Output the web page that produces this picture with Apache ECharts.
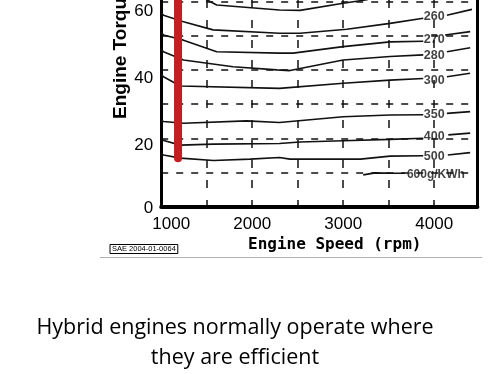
<!DOCTYPE html>
<html><head><meta charset="utf-8">
<script src="https://cdn.jsdelivr.net/npm/echarts@6/dist/echarts.min.js"></script>
<style>html,body{margin:0;padding:0;background:#fff}#c{width:500px;height:374px}</style>
</head><body><div id="c"></div>
<script>
// ---- data (engine speed rpm, torque) ----
const xTickLabels = [1000, 2000, 3000, 4000];
const yTickLabels = [0, 20, 40, 60];
const contour250 = [[1400,63],[1500,60.5],[1610,59.0],[2300,57.5],[2525,57.4],[3000,59.5],[3260,60.5],[3450,63]];
const contour260 = [[1000,56.6],[1025,56.0],[1245,54.1],[1570,51.7],[2300,50.7],[2525,50.7],[3040,51.9],[3515,53.6],[3880,55.1],null,[4140,56.0],[4415,57.7]];
const contour270 = [[1000,51.0],[1025,50.2],[1245,48.7],[1610,45.3],[2300,44.9],[2450,44.9],[3000,46.8],[3515,48.2],[3880,48.4],null,[4120,50.2],[4395,51.2]];
const contour280 = [[1000,46.0],[1025,45.3],[1245,42.9],[1790,40.9],[2270,40.0],[2415,39.8],[3000,42.9],[3515,43.9],[3880,44.4],null,[4140,45.3],[4395,46.5]];
const contour300 = [[1000,38.7],[1025,38.0],[1210,35.3],[2300,34.6],[3000,36.1],[3515,37.0],[3880,37.5],null,[4140,38.0],[4395,39.0]];
const contour350 = [[1000,25.3],[1025,24.9],[1245,24.4],[1940,25.1],[2300,24.6],[3000,26.3],[3515,26.8],[3880,26.9],null,[4140,27.3],[4395,27.8]];
const contour400 = [[1000,19.6],[1020,19.2],[1210,18.0],[1575,18.3],[2300,18.5],[2525,18.9],[3000,19.3],[3515,19.7],[3880,20.0],null,[4155,21.0],[4395,21.5]];
const contour500 = [[1000,15.5],[1025,15.1],[1210,14.2],[1575,13.5],[1975,13.9],[2300,14.4],[2415,13.9],[3190,13.9],[3515,14.8],[3880,14.9],null,[4150,15.1],[4395,15.8]];
const contour600 = [[3220,9.3],[3350,9.9],[3550,9.8],[3680,9.8]];
const contourLabels = ['260','270','280','300','350','400','500'];
const contourLabelTorque = [55.6, 49.0, 44.1, 36.8, 26.8, 20.5, 14.8];
const contourLabelSpeed = 4000;
const unitLabel = '600g/KWh';
const unitLabelPoint = [3700, 9.3];
const operatingSpeed = 1185;
const operatingTorque = [14.2, 64];

const SANS = '"Liberation Sans", Arial, sans-serif';
const chart = echarts.init(document.getElementById('c'), null, {renderer:'canvas'});

function splitSeg(arr){
  const segs=[[]];
  arr.forEach(p=>{ if(p===null) segs.push([]); else segs[segs.length-1].push(p); });
  return segs.filter(s=>s.length);
}
const lineStyle = {color:'#111', width:1.6};
const series = [];
[contour250,contour260,contour270,contour280,contour300,contour350,contour400,contour500,contour600].forEach(c=>{
  splitSeg(c).forEach(seg=>series.push({type:'line',data:seg,symbol:'none',lineStyle,z:3,silent:true}));
});
series.push({
  type:'scatter', symbolSize:0, z:4, silent:true,
  data: contourLabels.map((t,i)=>({value:[contourLabelSpeed, contourLabelTorque[i]], name:t})),
  label:{show:true, position:'inside', formatter:p=>p.name, color:'#111', fontFamily:SANS, fontSize:12.5, fontWeight:'bold'}
});
series.push({
  type:'scatter', symbolSize:0, z:4, silent:true,
  data:[{value:unitLabelPoint, name:unitLabel}],
  label:{show:true, position:'right', distance:0, formatter:p=>p.name, color:'#111', fontFamily:SANS, fontSize:12, fontWeight:'bold'}
});
series.push({
  type:'line', data:[[operatingSpeed,operatingTorque[0]],[operatingSpeed,operatingTorque[1]]],
  symbol:'none', z:5, silent:true,
  lineStyle:{color:'#c41e22', width:8, cap:'round'}
});

const yPad = {0:[4,0,0,0], 20:[15,0,0,0], 40:[17,0,0,0], 60:[20,0,0,0]};
const yRich = {};
yTickLabels.forEach(v=>{ yRich['t'+v] = {fontFamily:SANS, fontSize:17, color:'#000', padding:yPad[v]}; });

chart.setOption({
  animation:false,
  backgroundColor:'#fff',
  grid:{left:161.2, right:22.6, top:0, bottom:167.3, show:false},
  xAxis:{type:'value', min:1000, max:4475, interval:500,
    axisLine:{show:true, lineStyle:{color:'#000', width:4}},
    axisTick:{show:false},
    splitLine:{show:true, showMinLine:false, showMaxLine:false, lineStyle:{color:'#111', width:1.5, type:[8,12]}},
    axisLabel:{margin:9, color:'#000', fontFamily:SANS, fontSize:17,
      formatter:v=> xTickLabels.includes(v) ? (v===1000 ? '{f|'+v+'}' : String(v)) : '',
      rich:{f:{fontFamily:SANS, fontSize:17, color:'#000', padding:[0,0,0,20]}}}
  },
  yAxis:[{type:'value', min:0, max:60.44, interval:10,
    axisLine:{show:true, lineStyle:{color:'#000', width:3}},
    axisTick:{show:false},
    splitLine:{show:true, showMinLine:false, showMaxLine:false, lineStyle:{color:'#111', width:1.5, type:[7,8]}},
    axisLabel:{margin:8, color:'#000', fontFamily:SANS, fontSize:17, showMaxLabel:false,
      formatter:v=> yTickLabels.includes(v) ? '{t'+v+'|'+v+'}' : '',
      rich:yRich}
  },{type:'value', position:'right', min:0, max:60.44, interval:10,
    axisLine:{show:true, lineStyle:{color:'#000', width:3}},
    axisTick:{show:false}, axisLabel:{show:false}, splitLine:{show:false}
  }],
  graphic:[
    {type:'text', x:121, y:119, rotation:Math.PI/2, silent:true,
      style:{text:'Engine Torque (Nm)', font:'bold 19px "Liberation Sans", Arial, sans-serif', fill:'#000', textAlign:'left', textVerticalAlign:'middle'}},
    {type:'text', x:248, y:245, silent:true,
      style:{text:'Engine Speed (rpm)', font:'bold 16px "DejaVu Sans Mono", monospace', fill:'#000', textAlign:'left', textVerticalAlign:'middle'}},
    {type:'text', x:110, y:249, silent:true,
      style:{text:'SAE 2004-01-0064', font:'7.5px '+SANS, fill:'#000', textAlign:'left', textVerticalAlign:'middle', borderColor:'#000', borderWidth:1, padding:[1,2,0,2]}},
    {type:'line', silent:true, shape:{x1:100, y1:257.5, x2:482, y2:257.5}, style:{stroke:'#b0b0b0', lineWidth:1}},
    {type:'text', x:235, y:327.5, silent:true,
      style:{text:'Hybrid engines normally operate where', font:'21.5px "Open Sans", sans-serif', fill:'#000', textAlign:'center', textVerticalAlign:'middle'}},
    {type:'text', x:235, y:357.5, silent:true,
      style:{text:'they are efficient', font:'21.5px "Open Sans", sans-serif', fill:'#000', textAlign:'center', textVerticalAlign:'middle'}}
  ],
  series
});
</script></body></html>
